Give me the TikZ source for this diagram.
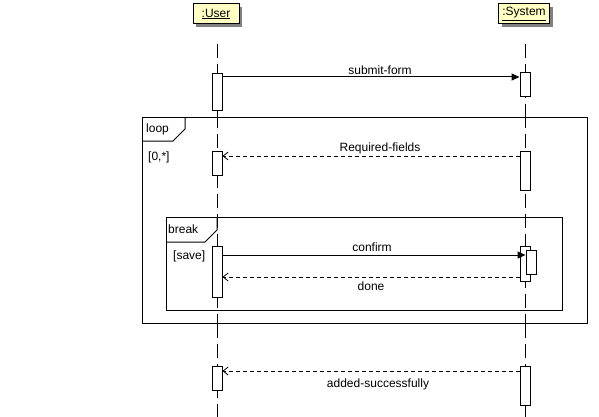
\documentclass[tikz,border=0pt]{standalone}
\usepackage{fontspec}
\setmainfont{Liberation Sans}
\usetikzlibrary{arrows.meta}
\definecolor{headfill}{RGB}{255,255,196}
\definecolor{shadowgray}{RGB}{128,128,128}
\begin{document}
\begin{tikzpicture}[x=1pt,y=-1pt,
  every node/.style={font=\fontsize{12}{14}\selectfont},
  head/.style={draw,line width=1pt,fill=headfill,inner sep=0pt,minimum height=20pt},
  headshadow/.style={fill=shadowgray,inner sep=0pt,minimum height=20pt},
  lifeline/.style={line width=1pt,dash pattern=on 14pt off 6pt},
  act/.style={draw,line width=1pt,fill=white,inner sep=0pt,minimum width=10pt},
  sync/.style={line width=1pt,-{Triangle[length=8pt,width=7pt]}},
  reply/.style={line width=0.8pt,dash pattern=on 4pt off 3pt,-{Straight Barb[length=5pt,width=8pt]}},
  frame/.style={draw,line width=1pt},
  lbl/.style={inner sep=0pt}]
\useasboundingbox (0,0) rectangle (599,417);

% lifelines
\coordinate (ulTop) at (217,44);
\coordinate (ulBot) at (217,417);
\coordinate (slTop) at (525,44);
\coordinate (slBot) at (525,417);
\draw[lifeline] (ulTop) -- (ulBot);
\draw[lifeline] (slTop) -- (slBot);

% participant heads with drop shadows
\node[headshadow,minimum width=46pt] at (219,17) {};
\node[head,minimum width=46pt] (user) at (216,14) {\underline{:User}};
\node[headshadow,minimum width=51pt] at (527,17) {};
\node[head,minimum width=51pt] (system) at (524,14) {\underline{:System}};

% combined fragment: loop
\draw[frame,fill=white] (142,118) rectangle (587,323);
\node[lbl,anchor=west] (loopname) at (146,129) {loop};
\draw[frame] (142,141) -- (173,141) -- (185,129) -- (185,118);
\node[lbl,anchor=west] (loopguard) at (148,157) {[0,*]};

% combined fragment: break
\draw[frame] (166,217) rectangle (562,310);
\node[lbl,anchor=west] (breakname) at (168,229) {break};
\draw[frame] (166,242) -- (205,242) -- (217,230) -- (217,217);
\node[lbl,anchor=west] (breakguard) at (173,256) {[save]};

% lifeline segments inside the loop frame
\begin{scope}
\clip (142,118) rectangle (587,323);
\draw[lifeline,dash phase=4pt] (217,118) -- (217,323);
\draw[lifeline,dash phase=4pt] (525,118) -- (525,323);
\end{scope}

% activation bars
\node[act,minimum height=37pt,anchor=north] (ua1) at (217,73) {};
\node[act,minimum height=24pt,anchor=north] (sa1) at (525,72) {};
\node[act,minimum height=24pt,anchor=north] (ua2) at (217,151) {};
\node[act,minimum height=39pt,anchor=north] (sa2) at (525,151) {};
\node[act,minimum height=51pt,anchor=north] (ua3) at (217,246) {};
\node[act,minimum height=35pt,anchor=north] (sa3) at (525,246) {};
\node[act,minimum height=24pt,anchor=north] (sa4) at (531,250) {};
\node[act,minimum height=24pt,anchor=north] (ua4) at (217,366) {};
\node[act,minimum height=39pt,anchor=north] (sa5) at (525,366) {};

% messages
\coordinate (m1) at ([yshift=-4pt]ua1.north east);
\draw[sync] (m1) -- (m1 -| sa1.west);
\node[lbl] (m1l) at (380,70) {submit-form};

\coordinate (m2) at ([yshift=-5pt]sa2.north west);
\draw[reply] (m2) -- (m2 -| ua2.east);
\node[lbl] (m2l) at (380,148) {Required-fields};

\coordinate (m3) at ([yshift=-9pt]ua3.north east);
\draw[sync] (m3) -- (m3 -| sa4.west);
\node[lbl] (m3l) at (372,247) {confirm};

\coordinate (m4) at ([yshift=5pt]sa3.south west);
\draw[reply] (m4) -- (m4 -| ua3.east);
\node[lbl] (m4l) at (371,286) {done};

\coordinate (m5) at ([yshift=-5pt]sa5.north west);
\draw[reply] (m5) -- (m5 -| ua4.east);
\node[lbl] (m5l) at (378,384) {added-successfully};
\end{tikzpicture}
\end{document}
